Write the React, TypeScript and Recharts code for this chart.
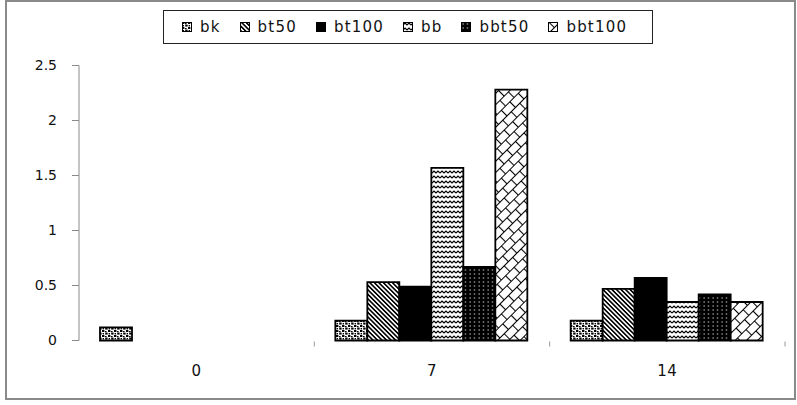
import React from 'react';
import { BarChart, Bar, XAxis, YAxis, Legend } from 'recharts';

// days after treatment
const categories = ['0', '7', '14'];

const bk = [0.12, 0.18, 0.18];
const bt50 = [null, 0.53, 0.47];
const bt100 = [null, 0.49, 0.57];
const bb = [null, 1.57, 0.35];
const bbt50 = [null, 0.67, 0.42];
const bbt100 = [null, 2.28, 0.35];

const yTicks = [0, 0.5, 1, 1.5, 2, 2.5];

const seriesNames = ['bk', 'bt50', 'bt100', 'bb', 'bbt50', 'bbt100'];
const seriesValues = [bk, bt50, bt100, bb, bbt50, bbt100];

const data = categories.map((day, i) => {
  const row: Record<string, string | number | null> = { day };
  seriesNames.forEach((name, s) => {
    row[name] = seriesValues[s][i];
  });
  return row;
});

const fillFor: Record<string, string> = {
  bk: 'url(#pat-bk)',
  bt50: 'url(#pat-bt50)',
  bt100: '#000',
  bb: 'url(#pat-bb)',
  bbt50: 'url(#pat-bbt50)',
  bbt100: 'url(#pat-bbt100)',
};

const FONT = '"DejaVu Sans", Verdana, sans-serif';

function Patterns() {
  return (
    <defs>
      <pattern id="pat-bk" width="6" height="5" patternUnits="userSpaceOnUse">
        <rect width="6" height="5" fill="#fff" />
        <rect x="0" y="0" width="2.4" height="2" fill="#000" />
        <rect x="3" y="1" width="1.6" height="1.2" fill="#000" />
        <rect x="3.2" y="2.6" width="2.4" height="2" fill="#000" />
        <rect x="0.6" y="3" width="1.4" height="1.4" fill="#000" />
      </pattern>
      <pattern id="pat-bt50" width="3.2" height="10" patternUnits="userSpaceOnUse" patternTransform="rotate(-45)">
        <rect width="3.2" height="10" fill="#fff" />
        <rect x="0" y="0" width="1.6" height="10" fill="#000" />
      </pattern>
      <pattern id="pat-bb" width="8" height="5" patternUnits="userSpaceOnUse">
        <rect width="8" height="5" fill="#fff" />
        <path d="M0 3 L2 1 L4 3 L6 1 L8 3" fill="none" stroke="#000" strokeWidth="1.2" />
      </pattern>
      <pattern id="pat-bbt50" width="4.5" height="4" patternUnits="userSpaceOnUse">
        <rect width="4.5" height="4" fill="#000" />
        <rect x="1.5" y="1.5" width="1.2" height="1" fill="#fff" />
      </pattern>
      {/* diagonal brick: long rising strokes joined by short falling ones */}
      <pattern id="pat-bbt100" width="12" height="16" patternUnits="userSpaceOnUse" patternTransform="rotate(-45)">
        <rect width="12" height="16" fill="#fff" />
        <path d="M0 0.5 H12 M0 8.5 H12 M0.5 0.5 V8.5 M6.5 8.5 V16" fill="none" stroke="#000" strokeWidth="1.1" />
      </pattern>
    </defs>
  );
}

function CategoryTick(props: any) {
  const { x, y, payload } = props;
  const half = payload.offset ?? 0;
  return (
    <g>
      <line x1={x + half} x2={x + half} y1={y + 1} y2={y + 6} stroke="#999" strokeWidth={1} />
      <text x={x} y={y + 30} textAnchor="middle" dominantBaseline="central" fontFamily={FONT} fontSize={15} fill="#111" letterSpacing={0.6}>
        {payload.value}
      </text>
    </g>
  );
}

function PatternLegend() {
  return (
    <div
      style={{
        boxSizing: 'border-box',
        width: 490,
        height: 34,
        border: '1px solid #222',
        background: '#fff',
        display: 'flex',
        alignItems: 'center',
        paddingLeft: 18,
        fontFamily: FONT,
        fontSize: 15,
        letterSpacing: 1.2,
        color: '#111',
      }}
    >
      {seriesNames.map((name) => (
        <span key={name} style={{ display: 'flex', alignItems: 'center', marginRight: 19 }}>
          <svg width={10} height={10} style={{ marginRight: 8 }}>
            <rect x={0.5} y={0.5} width={9} height={9} fill={fillFor[name]} stroke="#000" strokeWidth={1} />
          </svg>
          <span>{name}</span>
        </span>
      ))}
    </div>
  );
}

export default function App() {
  return (
    <div style={{ position: 'absolute', left: 0, top: 0, width: 797, height: 405, background: '#fff' }}>
      <div
        style={{
          position: 'absolute',
          left: 5,
          top: 0,
          width: 791,
          height: 400,
          boxSizing: 'border-box',
          border: '2px solid #8a8a8a',
        }}
      />
      <BarChart
        width={797}
        height={405}
        data={data}
        margin={{ top: 65.5, right: 12, bottom: 34.5, left: 0 }}
        barCategoryGap={21}
        barGap={0}
        style={{ position: 'absolute', left: 0, top: 0 }}
      >
        <Patterns />
        <XAxis
          dataKey="day"
          axisLine={false}
          tickLine={false}
          tickSize={0}
          tickMargin={0}
          height={30}
          tick={<CategoryTick />}
        />
        <YAxis
          width={79}
          domain={[0, 2.5]}
          ticks={yTicks}
          interval={0}
          axisLine={{ stroke: '#8a8a8a' }}
          tickLine={{ stroke: '#8a8a8a' }}
          tickSize={7}
          tickMargin={15}
          tick={{ fontFamily: FONT, fontSize: 14, fill: '#111' }}
        />
        <Legend
          layout="horizontal"
          verticalAlign="middle"
          align="center"
          wrapperStyle={{ top: 10, left: 163, width: 490, height: 34 }}
          content={<PatternLegend />}
        />
        {seriesNames.map((name) => (
          <Bar key={name} dataKey={name} fill={fillFor[name]} stroke="#000" strokeWidth={1.8} isAnimationActive={false} />
        ))}
      </BarChart>
    </div>
  );
}
